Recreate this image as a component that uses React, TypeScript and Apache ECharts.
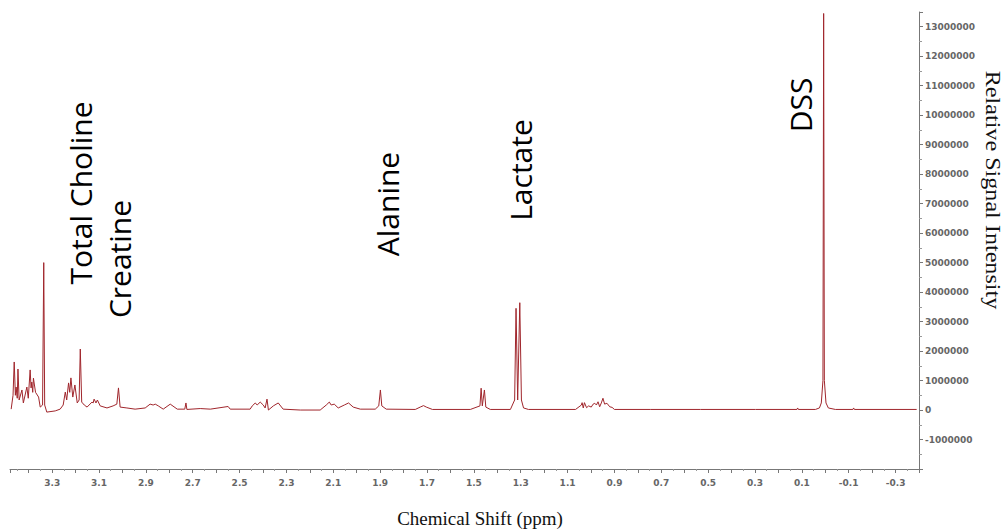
import React, { useEffect, useRef } from "react";
import * as echarts from "echarts";

// Chemical shift (ppm) and relative signal intensity
const shiftPpm = [
  3.475, 3.467, 3.462, 3.457, 3.454, 3.449, 3.446, 3.441, 3.429, 3.423,
  3.408, 3.402, 3.394, 3.39, 3.387, 3.383, 3.38, 3.371, 3.358, 3.351,
  3.341, 3.336, 3.332, 3.323, 3.287, 3.266, 3.253, 3.244, 3.238, 3.23,
  3.225, 3.22, 3.212, 3.203, 3.193, 3.185, 3.18, 3.174, 3.163, 3.151,
  3.13, 3.125, 3.121, 3.113, 3.107, 3.095, 3.066, 3.04, 3.024, 3.017,
  3.01, 2.981, 2.946, 2.903, 2.882, 2.869, 2.86, 2.847, 2.826, 2.796,
  2.766, 2.734, 2.729, 2.725, 2.668, 2.625, 2.549, 2.54, 2.455, 2.446,
  2.433, 2.425, 2.412, 2.399, 2.391, 2.383, 2.377, 2.356, 2.335, 2.314,
  2.241, 2.156, 2.13, 2.117, 2.109, 2.096, 2.079, 2.053, 2.035, 2.015,
  1.985, 1.921, 1.906, 1.899, 1.893, 1.874, 1.75, 1.729, 1.715, 1.703,
  1.677, 1.515, 1.474, 1.469, 1.464, 1.455, 1.449, 1.43, 1.344, 1.326,
  1.32, 1.313, 1.304, 1.297, 1.288, 1.267, 1.066, 1.041, 1.038, 1.033,
  1.028, 1.019, 1.01, 0.999, 0.991, 0.984, 0.977, 0.97, 0.963, 0.956,
  0.949, 0.942, 0.932, 0.92, 0.91, 0.9, 0.747, 0.533, 0.298, 0.121,
  0.118, 0.115, 0.042, 0.025, 0.017, 0.01, 0.007, 0.004, -0.003, -0.013,
  -0.043, -0.118, -0.121, -0.124, -0.39,
];

const intensity = [
  30000, 500000, 1630000, 500000, 780000, 400000, 1390000, 340000, 680000, 240000,
  780000, 400000, 1360000, 750000, 950000, 600000, 1080000, 600000, 440000, 100000,
  170000, 5000000, 170000, -70000, -30000, 30000, 170000, 610000, 340000, 920000,
  600000, 1090000, 440000, 850000, 240000, 340000, 2070000, 270000, 170000, 100000,
  270000, 240000, 370000, 240000, 340000, 140000, 70000, 140000, 200000, 750000,
  100000, 70000, 30000, 70000, 200000, 170000, 200000, 140000, 30000, 200000,
  30000, 30000, 240000, 20000, 50000, 30000, 120000, 30000, 30000, 140000,
  240000, 170000, 270000, 170000, 70000, 370000, 0, 140000, 240000, 30000,
  0, 0, 170000, 270000, 170000, 200000, 70000, 170000, 240000, 100000,
  30000, 30000, 140000, 680000, 140000, 30000, 20000, 100000, 150000, 100000,
  20000, 20000, 140000, 740000, 140000, 680000, 100000, 20000, 20000, 340000,
  3450000, 340000, 3640000, 340000, 70000, 20000, 20000, 170000, 250000, 70000,
  250000, 80000, 140000, 100000, 200000, 230000, 170000, 280000, 110000, 240000,
  400000, 200000, 230000, 110000, 90000, 20000, 20000, 20000, 20000, 20000,
  70000, 20000, 20000, 70000, 240000, 1000000, 13450000, 1000000, 240000, 70000,
  20000, 20000, 70000, 20000, 20000,
];

// Peak labels: text, centre x, centre y (px)
const peakLabels = ["Total Choline", "Creatine", "Alanine", "Lactate", "DSS"];
const labelCx = [80, 119, 387, 520, 800];
const labelCy = [193, 259, 204, 170, 105];

const xAxisTitle = "Chemical Shift (ppm)";
const yAxisTitle = "Relative Signal Intensity";

export default function App() {
  const ref = useRef<HTMLDivElement>(null);
  useEffect(() => {
    if (!ref.current) return;
    const chart = echarts.init(ref.current, null, { renderer: "svg" });
    const data = shiftPpm.map((p, i) => [p, intensity[i]]);
    const tickFont = {
      fontFamily: "DejaVu Sans",
      fontSize: 9,
      fontWeight: "bold" as const,
      color: "#666",
    };
    chart.setOption({
      animation: false,
      backgroundColor: "#fff",
      grid: { left: 10, right: 89, top: 12, bottom: 63, containLabel: false },
      xAxis: {
        type: "value",
        inverse: true,
        min: -0.4,
        max: 3.48,
        interval: 0.1,
        axisLine: { show: true, onZero: false, lineStyle: { color: "#777", width: 1 } },
        axisTick: { show: true, length: 4, lineStyle: { color: "#777" } },
        minorTick: { show: true, splitNumber: 2, length: 2, lineStyle: { color: "#999" } },
        splitLine: { show: false },
        axisLabel: {
          ...tickFont,
          margin: 9,
          showMinLabel: false,
          showMaxLabel: false,
          formatter: (v: number) => {
            const n = Math.round(v * 10);
            if (Math.abs(v * 10 - n) > 1e-6) return "";
            return Math.abs(n % 2) === 1 ? v.toFixed(1) : "";
          },
        },
      },
      yAxis: {
        type: "value",
        position: "right",
        min: -2000000,
        max: 13500000,
        interval: 1000000,
        axisLine: { show: true, onZero: false, lineStyle: { color: "#777", width: 1 } },
        axisTick: { show: true, length: 4, lineStyle: { color: "#777" } },
        minorTick: { show: true, splitNumber: 2, length: 3, lineStyle: { color: "#999" } },
        splitLine: { show: false },
        axisLabel: {
          ...tickFont,
          margin: 6,
          formatter: (v: number) =>
            v <= -2000000 || v > 13000000 ? "" : String(Math.round(v)),
        },
      },
      series: [
        {
          type: "line",
          data,
          showSymbol: false,
          symbol: "none",
          lineStyle: { color: "#a0262c", width: 1 },
        },
      ],
      graphic: [
        ...peakLabels.map((t, i) => ({
          type: "text",
          x: labelCx[i],
          y: labelCy[i],
          rotation: Math.PI / 2,
          style: {
            text: t,
            fontFamily: "Open Sans",
            fontSize: 30,
            fill: "#000",
            align: "center",
            verticalAlign: "middle",
          },
        })),
        {
          type: "text",
          x: 480,
          y: 518,
          style: {
            text: xAxisTitle,
            fontFamily: "Liberation Serif",
            fontSize: 19,
            fill: "#111",
            align: "center",
            verticalAlign: "middle",
          },
        },
        {
          type: "text",
          x: 993,
          y: 190,
          rotation: -Math.PI / 2,
          scaleX: 1.15,
          style: {
            text: yAxisTitle,
            fontFamily: "Liberation Serif",
            fontSize: 21,
            fill: "#111",
            align: "center",
            verticalAlign: "middle",
          },
        },
      ],
    });
    return () => chart.dispose();
  }, []);
  return (
    <div
      ref={ref}
      style={{ position: "fixed", left: 0, top: 0, width: 1008, height: 532 }}
    />
  );
}
